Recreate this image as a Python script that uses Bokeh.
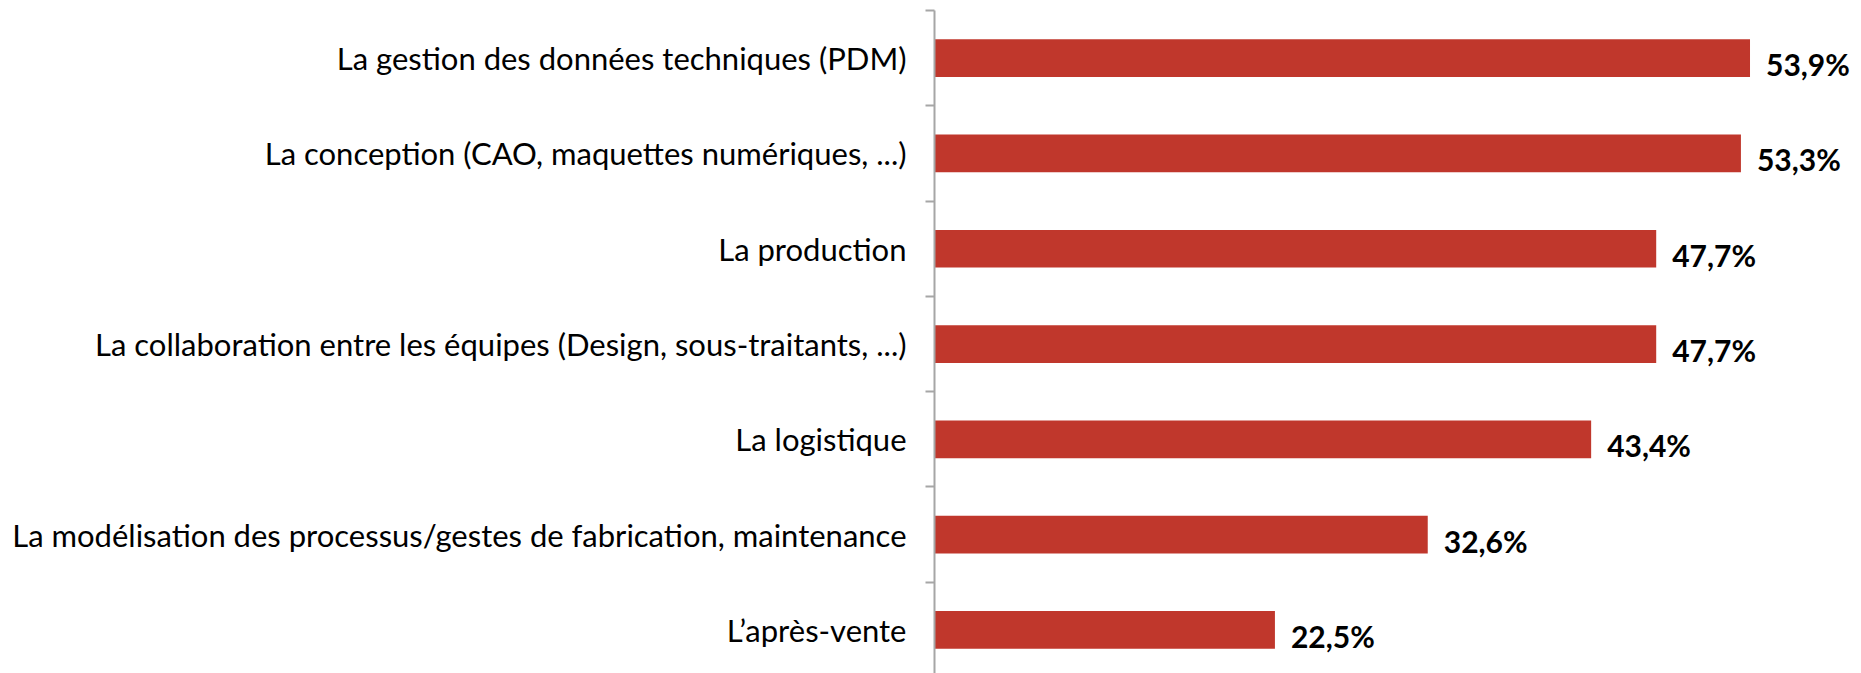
from bokeh.plotting import figure
from bokeh.models import ColumnDataSource, Range1d, FixedTicker, LabelSet
from bokeh.core.properties import value
from bokeh.embed import file_html
from bokeh.resources import INLINE

categories = [
    "La gestion des données techniques (PDM)",
    "La conception (CAO, maquettes numériques, ...)",
    "La production",
    "La collaboration entre les équipes (Design, sous-traitants, ...)",
    "La logistique",
    "La modélisation des processus/gestes de fabrication, maintenance",
    "L’après-vente",
]
values = [53.9, 53.3, 47.7, 47.7, 43.4, 32.6, 22.5]
labels = [("%.1f" % v).replace(".", ",") + "%" for v in values]

n = len(categories)
ypos = [n - 1 - i for i in range(n)]

src = ColumnDataSource(dict(y=ypos, v=values, lab=labels, cat=categories))

p = figure(width=1861, height=673, output_backend="svg", toolbar_location=None,
           x_range=Range1d(0, 60.74), y_range=Range1d(-0.457, n - 0.5),
           min_border_left=934, min_border_right=8, min_border_top=10, min_border_bottom=0)

p.hbar(y="y", right="v", left=0, height=0.396, source=src, color="#C0372C", line_color=None)

lbl = LabelSet(x="v", y="y", text="lab", source=src, x_offset=16, y_offset=-6,
               text_font=value("Lato"), text_font_style="bold", text_font_size="30px",
               text_baseline="middle", text_color="#000000")
p.add_layout(lbl)

p.xaxis.visible = False
p.xgrid.visible = False
p.ygrid.visible = False
p.outline_line_color = None

ax = p.yaxis[0]
ax.ticker = FixedTicker(ticks=ypos, minor_ticks=[y - 0.5 for y in range(n + 1)])
ax.major_label_overrides = {y: c for y, c in zip(ypos, categories)}
ax.major_tick_out = 0
ax.major_tick_in = 0
ax.minor_tick_out = 9
ax.minor_tick_in = 0
ax.minor_tick_line_color = "#A6A6A6"
ax.minor_tick_line_width = 2
ax.axis_line_color = "#A6A6A6"
ax.axis_line_width = 2
ax.major_label_text_font = "Lato"
ax.major_label_text_font_size = "31px"
ax.major_label_text_color = "#000000"
ax.major_label_standoff = 19

open("out.html", "w").write(file_html(p, INLINE))
